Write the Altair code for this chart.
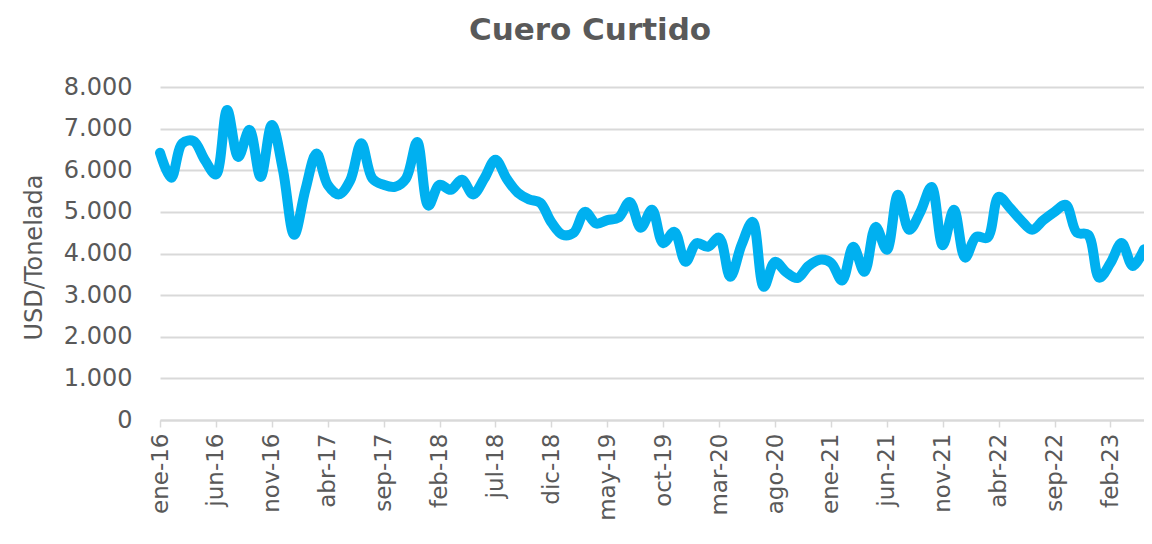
import altair as alt
import pandas as pd

month_names = ["ene", "feb", "mar", "abr", "may", "jun", "jul", "ago", "sep", "oct", "nov", "dic"]

values = [
    6420, 5820, 6650, 6700, 6250, 5900, 7450, 6320, 6970, 5840,
    7090, 6000, 4450, 5530, 6400, 5650, 5420, 5750, 6650, 5800,
    5650, 5600, 5800, 6680, 5150, 5650, 5530, 5770, 5420, 5800,
    6250, 5800, 5460, 5300, 5220, 4750, 4450, 4500, 5000, 4720,
    4800, 4860, 5240, 4620, 5050, 4250, 4520, 3800, 4250, 4160,
    4380, 3440, 4200, 4760, 3200, 3800, 3550, 3410, 3700, 3850,
    3780, 3350, 4160, 3560, 4640, 4090, 5410, 4570, 5000, 5600,
    4200, 5050, 3900, 4400, 4380, 5360, 5100, 4800, 4570, 4800,
    5000, 5170, 4500, 4450, 3420, 3770, 4250, 3700, 4100,
]

start_year = 16
months = [f"{month_names[i % 12]}-{start_year + i // 12}" for i in range(len(values))]
tick_idx = list(range(0, len(values), 5))
tick_labels = [months[i] for i in tick_idx]

df = pd.DataFrame({"idx": list(range(len(values))), "mes": months, "valor": values})

font = "DejaVu Sans"
grey = "#595959"

label_js = "[" + ",".join(f"'{t}'" for t in tick_labels) + "]"

chart = alt.Chart(df).mark_line(
    color="#00B0F0", strokeWidth=10, interpolate="catmull-rom", strokeCap="round", strokeJoin="round"
).encode(
    x=alt.X(
        "idx:Q",
        scale=alt.Scale(domain=[0, len(values) - 1], nice=False, zero=False),
        axis=alt.Axis(
            values=tick_idx,
            labelExpr=f"{label_js}[round(datum.value/5)]",
            labelAngle=270,
            labelFontSize=23,
            labelColor=grey,
            labelFont=font,
            labelPadding=6,
            tickSize=7,
            tickColor="#d9d9d9",
            tickWidth=1.5,
            domainColor="#d9d9d9",
            domainWidth=2,
            grid=False,
            title=None,
        ),
    ),
    y=alt.Y(
        "valor:Q",
        scale=alt.Scale(domain=[0, 8000], nice=False),
        axis=alt.Axis(
            values=list(range(0, 8001, 1000)),
            labelExpr="replace(format(datum.value, ','), ',', '.')",
            labelFontSize=24,
            labelColor=grey,
            labelFont=font,
            labelPadding=28,
            tickSize=0,
            domain=False,
            gridColor="#d9d9d9",
            gridWidth=2,
            title="USD/Tonelada",
            titleFont=font,
            titleFontSize=24,
            titleFontWeight="normal",
            titleColor=grey,
            titleX=-114,
            titleY=170,
        ),
    ),
).properties(
    width=984,
    height=333,
    title=alt.TitleParams(
        "Cuero Curtido",
        font=font,
        fontSize=31,
        fontWeight="bold",
        color=grey,
        anchor="middle",
        dx=-62,
        offset=28,
    ),
    autosize=alt.AutoSizeParams(type="none"),
    padding={"left": 152, "top": 79, "right": 0, "bottom": 116},
).configure_view(stroke=None)

chart.save("out.html", embed_options={"renderer": "svg", "actions": False})
